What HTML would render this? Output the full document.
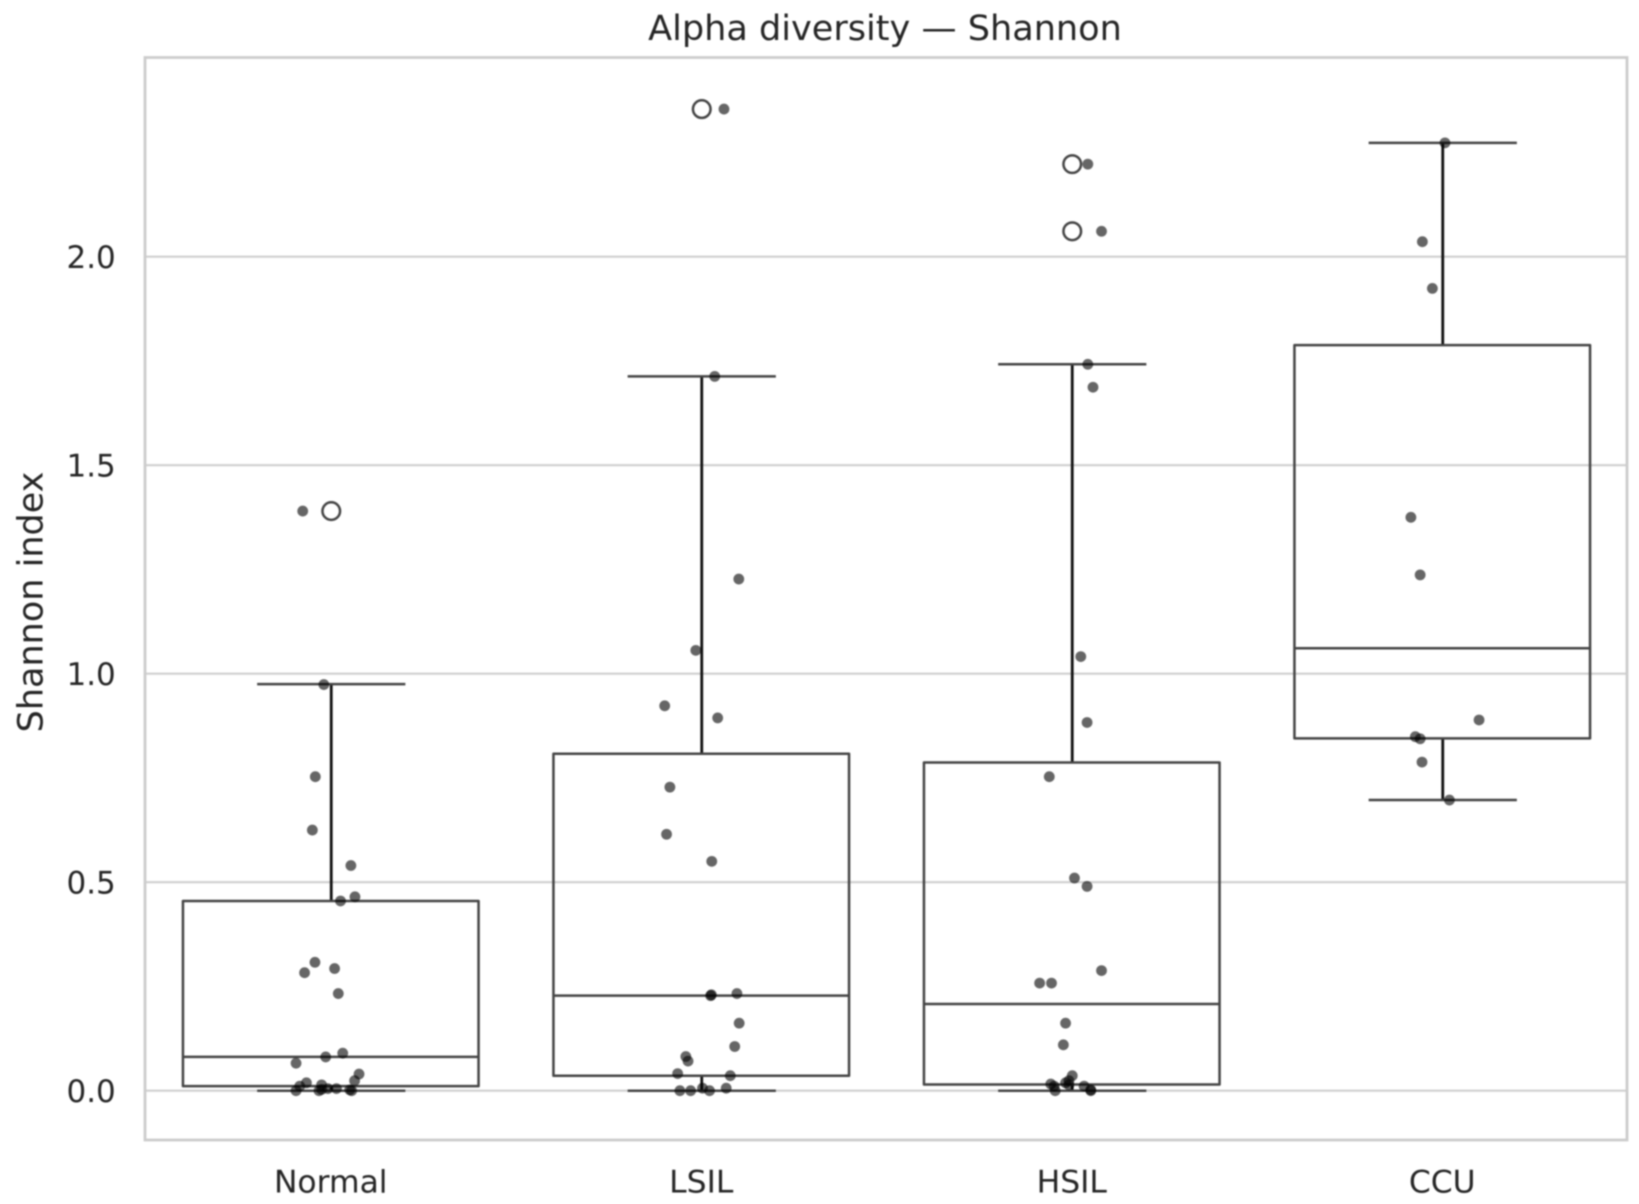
<!DOCTYPE html>
<html lang="en">
<head>
<meta charset="utf-8">
<title>Alpha diversity — Shannon</title>
<style>
html,body{margin:0;padding:0;background:#fff;width:1639px;height:1204px;overflow:hidden}
svg{display:block;filter:blur(0.7px)}
text{font-family:"DejaVu Sans","Liberation Sans",sans-serif;fill:#262626}
</style>
</head>
<body>
<svg id="chart" xmlns="http://www.w3.org/2000/svg" width="1639" height="1204" viewBox="0 0 1639 1204"></svg>
<script>
const categories = ['Normal', 'LSIL', 'HSIL', 'CCU'];
const yTicks = [0, 0.5, 1.0, 1.5, 2.0];
const yTickLabels = ['0.0', '0.5', '1.0', '1.5', '2.0'];
const chartTitle = 'Alpha diversity — Shannon';
const yAxisTitle = 'Shannon index';

const whiskerLow = [0, 0, 0, 0.697];
const q1 = [0.011, 0.036, 0.015, 0.845];
const median = [0.081, 0.228, 0.208, 1.061];
const q3 = [0.455, 0.808, 0.787, 1.788];
const whiskerHigh = [0.975, 1.713, 1.742, 2.273];
const outlierCategory = [0, 1, 2, 2];
const outlierValue = [1.39, 2.354, 2.222, 2.061];

const normalValues = [1.39, 0.974, 0.753, 0.625, 0.54, 0.465, 0.455, 0.308, 0.283, 0.293, 0.233, 0.09, 0.081, 0.066, 0.04, 0.024, 0.019, 0.014, 0.011, 0, 0, 0.003, 0.005, 0.005, 0.002, 0];
const normalJitter = [-0.077, -0.02, -0.043, -0.051, 0.053, 0.064, 0.025, -0.044, -0.072, 0.009, 0.019, 0.031, -0.015, -0.095, 0.075, 0.063, -0.067, -0.026, -0.085, -0.095, -0.033, -0.026, -0.009, 0.014, 0.05, 0.055];
const lsilValues = [2.354, 1.713, 1.227, 1.056, 0.923, 0.894, 0.728, 0.615, 0.55, 0.23, 0.228, 0.233, 0.162, 0.106, 0.082, 0.071, 0.041, 0.036, 0.006, 0, 0, 0.006, 0];
const lsilJitter = [0.06, 0.035, 0.1, -0.016, -0.1, 0.043, -0.086, -0.095, 0.027, 0.026, 0.024, 0.095, 0.101, 0.089, -0.043, -0.037, -0.065, 0.077, 0.066, -0.059, -0.03, 0.002, 0.021];
const hsilValues = [2.222, 2.061, 1.742, 1.687, 1.041, 0.883, 0.753, 0.51, 0.49, 0.288, 0.258, 0.258, 0.162, 0.11, 0.036, 0.024, 0.014, 0.019, 0.016, 0.011, 0, 0.011, 0.002, 0];
const hsilJitter = [0.042, 0.079, 0.042, 0.056, 0.023, 0.04, -0.062, 0.006, 0.04, 0.079, -0.088, -0.056, -0.018, -0.024, 0, -0.009, -0.009, -0.018, -0.058, -0.049, -0.046, 0.032, 0.05, 0.05];
const ccuValues = [2.273, 2.036, 1.924, 1.375, 1.237, 0.889, 0.849, 0.844, 0.788, 0.697];
const ccuJitter = [0.006, -0.055, -0.028, -0.086, -0.061, 0.098, -0.074, -0.061, -0.056, 0.018];

const seriesValues = [normalValues, lsilValues, hsilValues, ccuValues];
const seriesJitter = [normalJitter, lsilJitter, hsilJitter, ccuJitter];

const plot = {left: 145, right: 1627, top: 57.5, bottom: 1140};
const boxWidth = 0.8;
const capWidth = 0.4;

function xScale(c) {
  return plot.left + (c + 0.5) * (plot.right - plot.left) / categories.length + 1;
}
function yScale(v) {
  return 1090.7 - 417 * v;
}

const svg = document.getElementById('chart');
function make(tag, attrs, text) {
  const el = document.createElementNS('http://www.w3.org/2000/svg', tag);
  for (const k in attrs) el.setAttribute(k, attrs[k]);
  if (text !== undefined) el.textContent = text;
  svg.appendChild(el);
  return el;
}
const GRID = '#cfcfcf';
const BOXC = '#444444';
const STEM = '#111111';
let el;

yTicks.forEach(function (t, i) {
  el = make('line', {x1: plot.left, x2: plot.right, y1: yScale(t), y2: yScale(t), stroke: GRID, 'stroke-width': 2.2});
  
  
  el = make('text', {x: 115.8, y: yScale(t) + 11.3, 'text-anchor': 'end', 'font-size': 31}, yTickLabels[i]);
  
  
});

el = make('rect', {x: plot.left, y: plot.top, width: plot.right - plot.left, height: plot.bottom - plot.top, fill: 'none', stroke: '#cccccc', 'stroke-width': 2.8});



categories.forEach(function (name, i) {
  const cx = xScale(i);
  const half = (xScale(i + boxWidth / 2) - cx);
  const capHalf = (xScale(i + capWidth / 2) - cx);
  const boxCx = cx - 0.5;

  el = make('line', {x1: cx, x2: cx, y1: yScale(q3[i]), y2: yScale(whiskerHigh[i]), stroke: STEM, 'stroke-width': 2.8});
  
  

  el = make('line', {x1: cx, x2: cx, y1: yScale(q1[i]), y2: yScale(whiskerLow[i]), stroke: STEM, 'stroke-width': 2.8});
  
  

  el = make('line', {x1: cx - capHalf, x2: cx + capHalf, y1: yScale(whiskerHigh[i]), y2: yScale(whiskerHigh[i]), stroke: BOXC, 'stroke-width': 2.5});
  
  

  el = make('line', {x1: cx - capHalf, x2: cx + capHalf, y1: yScale(whiskerLow[i]), y2: yScale(whiskerLow[i]), stroke: BOXC, 'stroke-width': 2.5});
  
  

  el = make('rect', {x: boxCx - half + 0.4, y: yScale(q3[i]), width: 2 * half - 0.8, height: yScale(q1[i]) - yScale(q3[i]), fill: 'none', stroke: BOXC, 'stroke-width': 2.5, 'stroke-linejoin': 'round'});
  
  

  el = make('line', {x1: boxCx - half + 0.4, x2: boxCx + half - 0.4, y1: yScale(median[i]), y2: yScale(median[i]), stroke: BOXC, 'stroke-width': 2.5});
  
  

  el = make('text', {x: cx - 0.5, y: 1192.3, 'text-anchor': 'middle', 'font-size': 31.4}, name);
  
  
});

outlierValue.forEach(function (v, i) {
  el = make('circle', {cx: xScale(outlierCategory[i]), cy: yScale(v), r: 8.8, fill: '#fff', stroke: BOXC, 'stroke-width': 2.5});
  
  
});

seriesValues.forEach(function (vals, i) {
  vals.forEach(function (v, j) {
    el = make('circle', {cx: xScale(i + seriesJitter[i][j]), cy: yScale(v), r: 5.4, fill: '#000', 'fill-opacity': 0.6});
    
    
  });
});

el = make('text', {x: 885, y: 40, 'text-anchor': 'middle', 'font-size': 35.1}, chartTitle);



el = make('text', {x: 0, y: 0, 'text-anchor': 'middle', 'font-size': 35, transform: 'translate(42.5 602) rotate(-90)'}, yAxisTitle);


</script>
</body>
</html>
